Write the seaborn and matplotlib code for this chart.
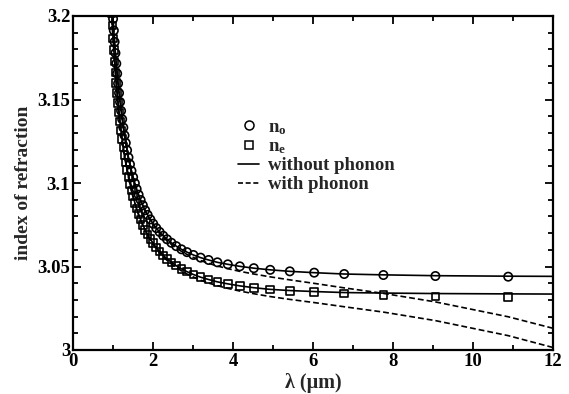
import matplotlib
matplotlib.use("Agg")
import matplotlib.pyplot as plt
from matplotlib.lines import Line2D
from matplotlib.ticker import MultipleLocator, FuncFormatter
import seaborn as sns

# wavelengths of the computed points (µm)
wavelength = [10.88, 9.06, 7.76, 6.78, 6.03, 5.42, 4.93, 4.52, 4.17, 3.87,
              3.61, 3.39, 3.19, 3.01, 2.85, 2.71, 2.58, 2.46, 2.35, 2.255,
              2.165, 2.082, 2.004, 1.933, 1.866, 1.804, 1.746, 1.691, 1.640, 1.591,
              1.546, 1.503, 1.462, 1.424, 1.387, 1.352, 1.319, 1.288, 1.258, 1.229,
              1.202, 1.176, 1.151, 1.127, 1.104, 1.082, 1.061, 1.040, 1.021, 1.002,
              0.983, 0.966]

# ordinary index, points
n_o_pts = [3.0439, 3.0443, 3.0449, 3.0455, 3.0463, 3.0471, 3.0480, 3.0490, 3.0501, 3.0513,
           3.0525, 3.0539, 3.0553, 3.0569, 3.0586, 3.0603, 3.0622, 3.0642, 3.0663, 3.0684,
           3.0707, 3.0730, 3.0756, 3.0782, 3.0809, 3.0837, 3.0867, 3.0898, 3.0930, 3.0964,
           3.0999, 3.1035, 3.1073, 3.1112, 3.1153, 3.1196, 3.1240, 3.1285, 3.1332, 3.1382,
           3.1432, 3.1485, 3.1539, 3.1596, 3.1655, 3.1715, 3.1778, 3.1845, 3.1913, 3.1983,
           3.2060, 3.2133]

# extraordinary index, points
n_e_pts = [3.0316, 3.0321, 3.0331, 3.0338, 3.0346, 3.0354, 3.0363, 3.0373, 3.0384, 3.0396,
           3.0408, 3.0422, 3.0436, 3.0452, 3.0469, 3.0486, 3.0505, 3.0525, 3.0546, 3.0567,
           3.0590, 3.0613, 3.0639, 3.0665, 3.0692, 3.0720, 3.0750, 3.0781, 3.0813, 3.0847,
           3.0882, 3.0918, 3.0956, 3.0995, 3.1036, 3.1079, 3.1123, 3.1168, 3.1215, 3.1265,
           3.1315, 3.1368, 3.1422, 3.1479, 3.1538, 3.1598, 3.1661, 3.1728, 3.1796, 3.1866,
           3.1943, 3.2016]

# wavelengths of the model curves (µm)
wavelength_curve = [12.0] + wavelength

# model without phonon contribution
n_o_nophonon = [3.0441, 3.0442, 3.0445, 3.0450, 3.0455, 3.0463, 3.0471, 3.0480, 3.0490, 3.0501,
                3.0513, 3.0525, 3.0539, 3.0553, 3.0569, 3.0586, 3.0603, 3.0622, 3.0642, 3.0663,
                3.0684, 3.0707, 3.0730, 3.0756, 3.0782, 3.0809, 3.0837, 3.0867, 3.0898, 3.0930,
                3.0964, 3.0999, 3.1035, 3.1073, 3.1112, 3.1153, 3.1196, 3.1240, 3.1285, 3.1332,
                3.1382, 3.1432, 3.1485, 3.1539, 3.1596, 3.1655, 3.1715, 3.1778, 3.1845, 3.1913,
                3.1983, 3.2060, 3.2133]
n_e_nophonon = [3.0335, 3.0336, 3.0338, 3.0341, 3.0344, 3.0350, 3.0356, 3.0363, 3.0373, 3.0384,
                3.0396, 3.0408, 3.0422, 3.0436, 3.0452, 3.0469, 3.0486, 3.0505, 3.0525, 3.0546,
                3.0567, 3.0590, 3.0613, 3.0639, 3.0665, 3.0692, 3.0720, 3.0750, 3.0781, 3.0813,
                3.0847, 3.0882, 3.0918, 3.0956, 3.0995, 3.1036, 3.1079, 3.1123, 3.1168, 3.1215,
                3.1265, 3.1315, 3.1368, 3.1422, 3.1479, 3.1538, 3.1598, 3.1661, 3.1728, 3.1796,
                3.1866, 3.1943, 3.2016]

# model with phonon contribution
n_o_phonon = [3.0130, 3.0199, 3.0288, 3.0339, 3.0372, 3.0399, 3.0420, 3.0438, 3.0455, 3.0471,
              3.0487, 3.0503, 3.0519, 3.0536, 3.0554, 3.0572, 3.0591, 3.0611, 3.0632, 3.0654,
              3.0675, 3.0699, 3.0723, 3.0749, 3.0776, 3.0803, 3.0832, 3.0862, 3.0893, 3.0925,
              3.0960, 3.0995, 3.1031, 3.1069, 3.1109, 3.1150, 3.1193, 3.1237, 3.1282, 3.1329,
              3.1379, 3.1430, 3.1483, 3.1537, 3.1594, 3.1653, 3.1713, 3.1776, 3.1843, 3.1911,
              3.1981, 3.2058, 3.2131]
n_e_phonon = [3.0015, 3.0086, 3.0176, 3.0227, 3.0259, 3.0284, 3.0303, 3.0320, 3.0337, 3.0353,
              3.0369, 3.0385, 3.0401, 3.0418, 3.0437, 3.0455, 3.0474, 3.0494, 3.0515, 3.0537,
              3.0558, 3.0582, 3.0606, 3.0632, 3.0659, 3.0686, 3.0715, 3.0745, 3.0776, 3.0808,
              3.0843, 3.0878, 3.0914, 3.0952, 3.0992, 3.1033, 3.1076, 3.1120, 3.1165, 3.1212,
              3.1262, 3.1313, 3.1366, 3.1420, 3.1477, 3.1536, 3.1596, 3.1659, 3.1726, 3.1794,
              3.1864, 3.1941, 3.2014]

legend_labels = [r"n$_{\rm o}$", r"n$_{\rm e}$", "without phonon", "with phonon"]

sns.set_style("ticks")
plt.rcParams["font.family"] = ["Liberation Serif", "DejaVu Serif"]
plt.rcParams["font.weight"] = "bold"
plt.rcParams["mathtext.fontset"] = "custom"
plt.rcParams["mathtext.rm"] = "Liberation Serif:bold"
plt.rcParams["mathtext.it"] = "Liberation Serif:bold"
plt.rcParams["mathtext.bf"] = "Liberation Serif:bold"

fig = plt.figure(figsize=(5.69, 3.94), dpi=100)
ax = fig.add_axes([73 / 569, 1 - 350 / 394, 480 / 569, 334 / 394])

line_kw = dict(color="black", linewidth=1.2, sort=False, estimator=None, ax=ax)
sns.lineplot(x=wavelength_curve, y=n_o_nophonon, **line_kw)
sns.lineplot(x=wavelength_curve, y=n_e_nophonon, **line_kw)
sns.lineplot(x=wavelength_curve, y=n_o_phonon, linestyle="--", **line_kw)
sns.lineplot(x=wavelength_curve, y=n_e_phonon, linestyle="--", **line_kw)
for ln in ax.lines[2:4]:
    ln.set_dashes((3.5, 1.8))

sns.scatterplot(x=wavelength, y=n_o_pts, marker="o", s=36, color="black", ax=ax)
sns.scatterplot(x=wavelength, y=n_e_pts, marker="s", s=30, color="black", ax=ax)
for coll in ax.collections:
    coll.set_facecolor("none")
    coll.set_edgecolor("black")
    coll.set_linewidth(1.2)

ax.set_xlim(0, 12)
ax.set_ylim(3.0, 3.2)
ax.xaxis.set_major_locator(MultipleLocator(2))
ax.xaxis.set_minor_locator(MultipleLocator(1))
ax.yaxis.set_major_locator(MultipleLocator(0.05))
ax.yaxis.set_minor_locator(MultipleLocator(0.01))
ax.yaxis.set_major_formatter(FuncFormatter(lambda v, p: f"{v:g}"))
ax.tick_params(which="both", direction="in", top=True, right=True,
               width=1.3, colors="black", labelsize=13.5, pad=2)
ax.tick_params(which="major", length=6)
ax.tick_params(which="minor", length=3.5)
for sp in ax.spines.values():
    sp.set_linewidth(1.6)
    sp.set_color("black")
for lab in ax.get_xticklabels() + ax.get_yticklabels():
    lab.set_fontweight("bold")

ax.set_xlabel("λ (μm)", fontsize=14.5, fontweight="bold", labelpad=2.5)
ax.set_ylabel("index of refraction", fontsize=14, fontweight="bold", labelpad=4)

handles = [
    Line2D([], [], marker="o", linestyle="none", markerfacecolor="none",
           markeredgecolor="black", markersize=6.5, markeredgewidth=1.1),
    Line2D([], [], marker="s", linestyle="none", markerfacecolor="none",
           markeredgecolor="black", markersize=5.5, markeredgewidth=1.1),
    Line2D([], [], color="black", linewidth=1.2),
    Line2D([], [], color="black", linewidth=1.2, dashes=(3, 1.6)),
]
ax.legend(handles, legend_labels, loc="upper left", bbox_to_anchor=(0.329, 0.715),
          frameon=False, fontsize=13.5, handlelength=1.1, handletextpad=0.5,
          labelspacing=0.08, borderaxespad=0)

fig.savefig("out.png", dpi=100)
